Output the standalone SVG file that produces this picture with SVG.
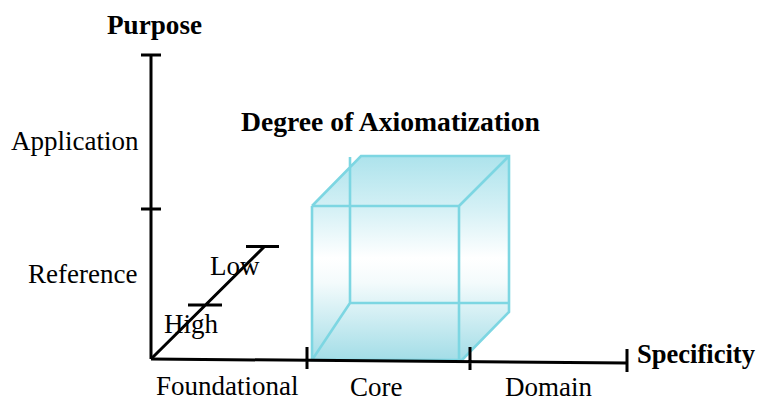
<svg xmlns="http://www.w3.org/2000/svg" width="759" height="401" viewBox="0 0 759 401">
<defs>
<linearGradient id="cubeGrad" gradientUnits="userSpaceOnUse" x1="0" y1="156" x2="0" y2="360">
<stop offset="0" stop-color="#ade3ec"/>
<stop offset="0.25" stop-color="#d3f0f5"/>
<stop offset="0.5" stop-color="#ffffff"/>
<stop offset="0.62" stop-color="#f4fbfc"/>
<stop offset="1" stop-color="#a3dde7"/>
</linearGradient>
</defs>
<style>
.axis{stroke:#000;stroke-width:3;fill:none;stroke-linecap:butt}
.edge{stroke:#7dd6e2;stroke-width:2.6;fill:none;stroke-linejoin:miter}
.lbl{font-family:"Liberation Serif","Times New Roman",serif;font-size:27px;fill:#000}
.ttl{font-family:"Liberation Serif","Times New Roman",serif;font-size:27px;font-weight:bold;fill:#000}
</style>
<rect width="759" height="401" fill="#fff"/>
<g id="cube">
<polygon points="312,206 361,156 509,156 509,312 462,360 312,360" fill="url(#cubeGrad)"/>
<path class="edge" d="M312,206 L459,206 L459,360 M312,206 L312,360 L462,360 M312,206 L361,156 L509,156 L509,312 L462,360 M459,206 L509,156 M350,157 L350,303 L509,303 M312,360 L350,303"/>
</g>
<g id="connectors">
<path class="axis" d="M151,55 L151,359 M141,55 L161,55 M141,209 L161,209"/>
<path class="axis" d="M151,359 L627,363 M307,347 L307,369 M470,347 L470,370 M627,349 L627,372"/>
<path class="axis" d="M151,359 L264,247 M246,246.5 L279,246.5 M188,305 L222,305" stroke-width="2.6"/>
</g>
<g id="purpose"><text class="ttl" x="107" y="34" textLength="95" lengthAdjust="spacingAndGlyphs">Purpose</text></g>
<g id="degree"><text class="ttl" x="241" y="131" textLength="299" lengthAdjust="spacingAndGlyphs">Degree of Axiomatization</text></g>
<g id="specificity"><text class="ttl" x="637" y="363" textLength="118" lengthAdjust="spacingAndGlyphs">Specificity</text></g>
<g id="application"><text class="lbl" x="11" y="150">Application</text></g>
<g id="reference"><text class="lbl" x="28" y="283">Reference</text></g>
<g id="low"><text class="lbl" x="210" y="275" font-size="26">Low</text></g>
<g id="high"><text class="lbl" x="164" y="333">High</text></g>
<g id="foundational"><text class="lbl" x="156" y="395">Foundational</text></g>
<g id="core"><text class="lbl" x="350" y="396">Core</text></g>
<g id="domain"><text class="lbl" x="505" y="396">Domain</text></g>
</svg>
